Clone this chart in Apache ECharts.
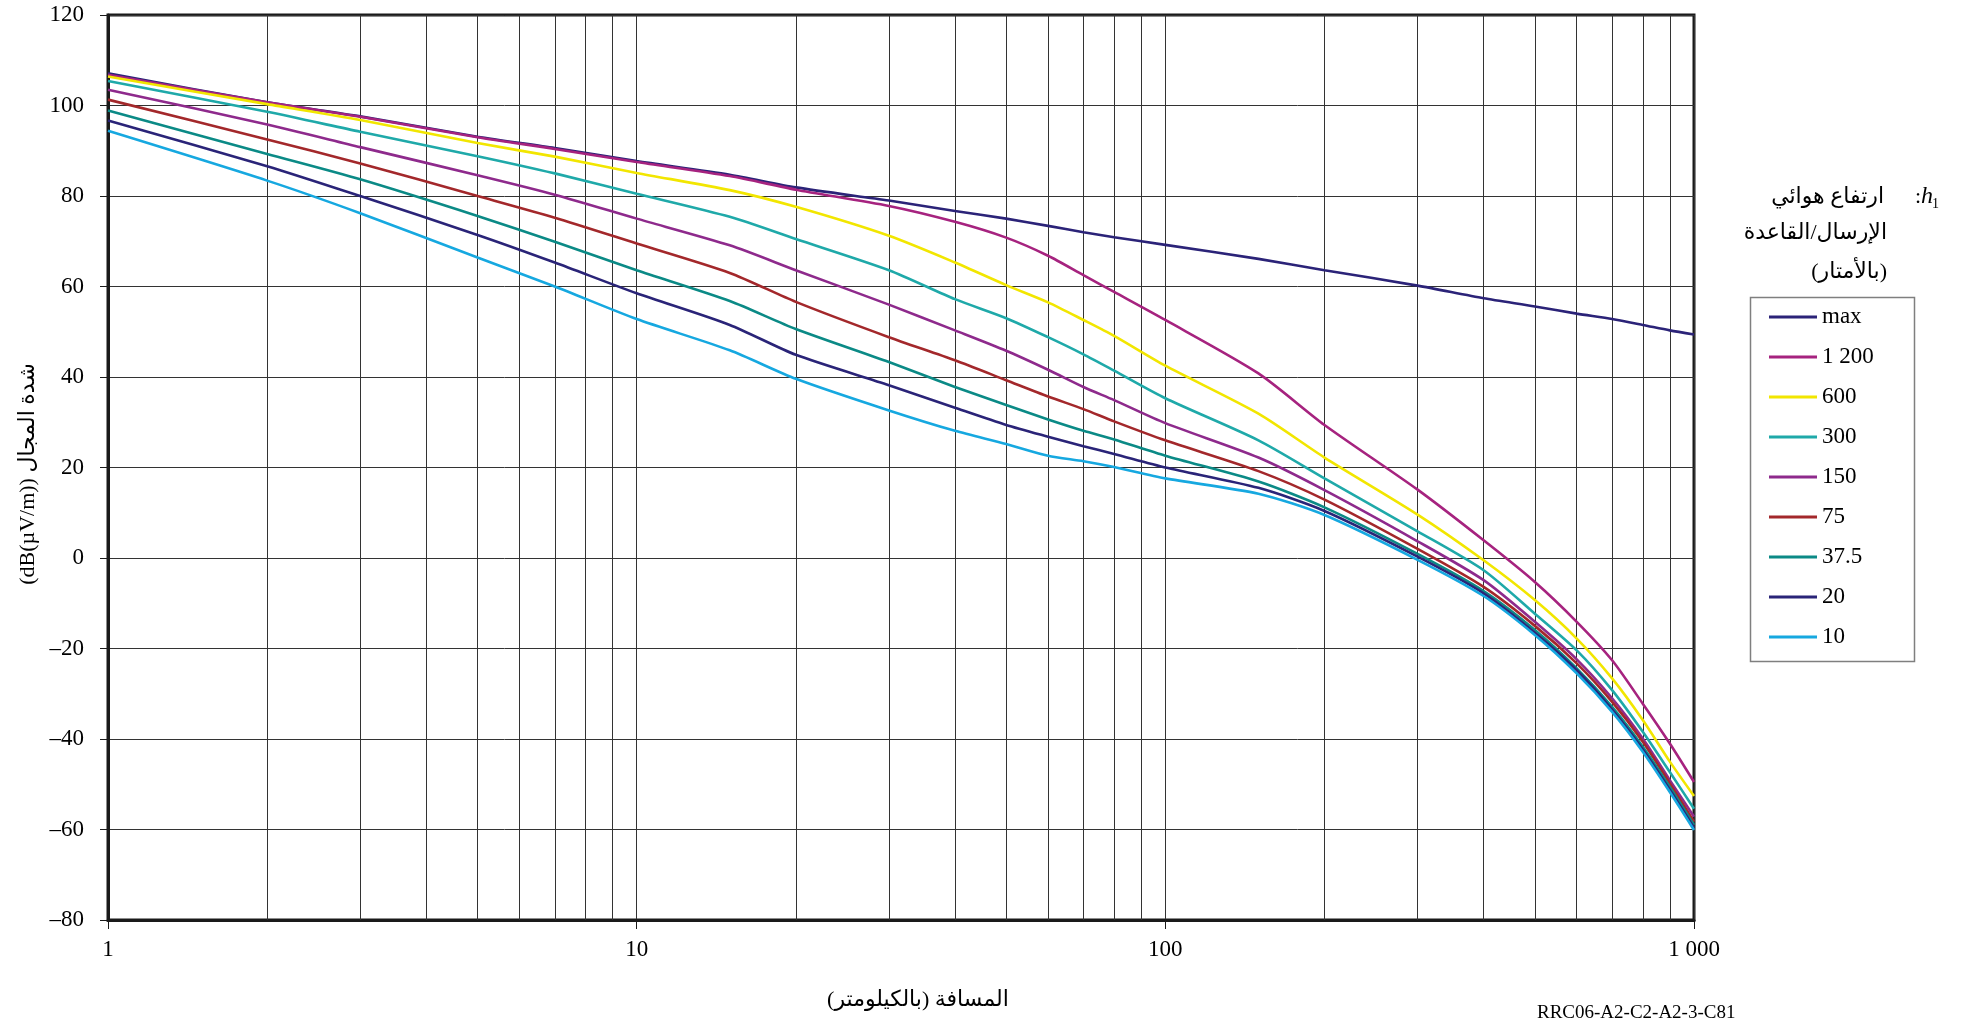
<!DOCTYPE html>
<html>
<head>
<meta charset="utf-8">
<script src="https://cdn.jsdelivr.net/npm/echarts@6/dist/echarts.min.js"></script>
<style>
html,body{margin:0;padding:0;background:#fff;}
#chart{width:1968px;height:1019px;}
</style>
</head>
<body>
<div id="chart"></div>
<script>
// Distances (km)
const distances = [1, 2, 3, 5, 7, 10, 15, 20, 30, 40, 50, 60, 70, 80, 100, 150, 200, 300, 400, 500, 600, 700, 800, 900, 1000];

// Field strength dB(µV/m) per transmitting/base antenna height h1
const hMax  = [107.1, 100.7, 97.6, 93.1, 90.6, 87.7, 84.7, 81.9, 79.0, 76.7, 75.0, 73.4, 72.0, 70.9, 69.2, 66.1, 63.6, 60.2, 57.4, 55.6, 54.0, 52.8, 51.5, 50.3, 49.4];
const h1200 = [106.8, 100.7, 97.5, 93.0, 90.4, 87.5, 84.4, 81.4, 77.8, 74.3, 70.8, 66.8, 62.5, 58.8, 52.6, 40.8, 29.4, 15.1, 3.9, -5.3, -14.1, -22.6, -32.2, -41.0, -49.5];
const h600  = [106.4, 100.3, 96.8, 91.7, 88.7, 85.1, 81.3, 77.6, 71.2, 65.3, 60.3, 56.5, 52.6, 49.1, 42.5, 31.9, 22.2, 9.6, -0.5, -9.3, -17.8, -26.6, -35.8, -45.0, -52.6];
const h300  = [105.4, 98.6, 94.2, 88.8, 85.0, 80.5, 75.4, 70.5, 63.6, 57.2, 53.0, 48.8, 45.0, 41.4, 35.3, 26.0, 17.6, 5.9, -2.7, -12.3, -20.4, -29.2, -38.4, -47.3, -55.4];
const h150  = [103.5, 95.8, 90.8, 84.6, 80.3, 75.0, 69.1, 63.6, 56.0, 50.3, 45.8, 41.6, 37.8, 34.9, 29.8, 22.2, 15.0, 3.7, -4.9, -14.1, -22.4, -31.0, -39.9, -49.1, -57.2];
const h75   = [101.3, 92.5, 87.2, 80.0, 75.2, 69.5, 63.0, 56.6, 48.8, 43.7, 39.3, 35.7, 32.9, 30.2, 26.0, 19.2, 12.9, 2.0, -6.4, -15.0, -23.3, -31.8, -40.6, -49.8, -58.3];
const h37_5 = [98.9, 89.3, 83.7, 75.6, 69.9, 63.6, 56.8, 50.6, 43.3, 37.8, 33.8, 30.6, 28.1, 26.2, 22.6, 16.9, 11.2, 0.9, -7.3, -15.9, -24.4, -32.9, -41.7, -50.6, -59.0];
const h20   = [96.7, 86.6, 80.0, 71.4, 65.3, 58.5, 51.5, 44.9, 38.2, 33.2, 29.4, 26.8, 24.7, 23.0, 20.0, 15.5, 10.4, 0.3, -7.8, -16.5, -24.8, -33.5, -42.3, -51.2, -59.6];
const h10   = [94.4, 83.4, 76.2, 66.4, 60.0, 52.8, 45.9, 39.6, 32.6, 28.1, 25.2, 22.6, 21.4, 20.1, 17.6, 14.2, 9.5, -0.4, -8.4, -17.0, -25.5, -34.0, -42.8, -51.7, -60.1];

const seriesNames = ['max', '1 200', '600', '300', '150', '75', '37.5', '20', '10'];
const seriesValues = [hMax, h1200, h600, h300, h150, h75, h37_5, h20, h10];
const seriesColors = ['#2b2378', '#a6237f', '#f2e600', '#1fa9a9', '#8e2a8c', '#a3282b', '#0b8a86', '#2a2478', '#16a8e0'];

// Axis ticks / grid
const xTickLabels = {1: '1', 10: '10', 100: '100', 1000: '1 000'};
const xMinorGrid = [2, 3, 4, 5, 6, 7, 8, 9, 20, 30, 40, 50, 60, 70, 80, 90, 200, 300, 400, 500, 600, 700, 800, 900];

const FONT = "'Liberation Serif', 'DejaVu Serif', serif";
const chart = echarts.init(document.getElementById('chart'), null, {renderer: 'canvas'});

const series = seriesNames.map((name, i) => ({
  name: name,
  type: 'line',
  data: distances.map((d, j) => [d, seriesValues[i][j]]),
  symbol: 'none',
  smooth: 0.25,
  lineStyle: {color: seriesColors[i], width: 2.6},
  itemStyle: {color: seriesColors[i]},
  z: 5
}));

series.push({
  name: 'grid',
  type: 'line',
  data: [],
  silent: true,
  z: 1,
  markLine: {
    silent: true,
    symbol: 'none',
    label: {show: false},
    lineStyle: {color: '#333', width: 1, type: 'solid'},
    data: xMinorGrid.map(v => ({xAxis: v}))
  }
});

const option = {
  animation: false,
  backgroundColor: '#fff',
  grid: {
    left: 108, right: 274, top: 15, bottom: 99,
    show: true, borderColor: '#1a1a1a', borderWidth: 3,
    outerBoundsMode: 'none'
  },
  xAxis: {
    type: 'log',
    logBase: 10,
    min: 1,
    max: 1000,
    axisLine: {show: true, onZero: false, lineStyle: {color: '#1a1a1a', width: 3}},
    axisTick: {show: true, length: 9, lineStyle: {color: '#1a1a1a', width: 1}},
    axisLabel: {
      margin: 18,
      color: '#000',
      fontFamily: FONT,
      fontSize: 23,
      formatter: v => xTickLabels[Math.round(v)] || ''
    },
    splitLine: {show: true, lineStyle: {color: '#333', width: 1}},
    minorTick: {show: false},
    minorSplitLine: {show: false}
  },
  yAxis: {
    type: 'value',
    min: -80,
    max: 120,
    interval: 20,
    axisLine: {show: true, onZero: false, lineStyle: {color: '#1a1a1a', width: 3}},
    axisTick: {show: true, length: 8, lineStyle: {color: '#1a1a1a', width: 1}},
    axisLabel: {
      margin: 24,
      color: '#000',
      fontFamily: FONT,
      fontSize: 23,
      formatter: v => String(v).replace('-', '\u2013')
    },
    splitLine: {show: true, lineStyle: {color: '#333', width: 1}}
  },
  legend: {
    data: seriesNames,
    orient: 'vertical',
    left: 1769,
    top: 295,
    padding: [10, 0, 10, 0],
    icon: 'rect',
    itemWidth: 48,
    itemHeight: 3,
    itemGap: 16,
    selectedMode: false,
    textStyle: {color: '#000', fontFamily: FONT, fontSize: 23, lineHeight: 24}
  },
  graphic: [
    {type: 'rect', left: 1748, top: 295, shape: {width: 164, height: 364}, style: {fill: 'none', stroke: '#7f7f7f', lineWidth: 1.5}, z: 10},
    {type: 'text', x: 1884, y: 197, style: {text: 'ارتفاع هوائي', font: "22px 'Liberation Serif', 'DejaVu Sans'", fill: '#000', align: 'right', verticalAlign: 'middle'}},
    {type: 'text', x: 1915, y: 197, style: {text: '{c|:}{h|h}', rich: {c: {fontSize: 22, fontFamily: FONT}, h: {fontSize: 24, fontFamily: FONT, fontStyle: 'italic'}}, fill: '#000', align: 'left', verticalAlign: 'middle'}},
    {type: 'text', x: 1932, y: 204, style: {text: '1', font: "14px 'Liberation Serif'", fill: '#000', align: 'left', verticalAlign: 'middle'}},
    {type: 'text', x: 1887, y: 233, style: {text: 'الإرسال/القاعدة', font: "22px 'Liberation Serif', 'DejaVu Sans'", fill: '#000', align: 'right', verticalAlign: 'middle'}},
    {type: 'text', x: 1887, y: 272, style: {text: '\u200F(بالأمتار)\u200F', font: "22px 'Liberation Serif', 'DejaVu Sans'", fill: '#000', align: 'right', verticalAlign: 'middle'}},
    {type: 'text', x: 28, y: 474, rotation: Math.PI / 2, style: {text: '(dB(µV/m)) شدة المجال', font: "22px 'Liberation Serif', 'DejaVu Sans'", fill: '#000', align: 'center', verticalAlign: 'middle'}},
    {type: 'text', x: 918, y: 1000, style: {text: 'المسافة (بالكيلومتر)\u200F', font: "22px 'Liberation Serif', 'DejaVu Sans'", fill: '#000', align: 'center', verticalAlign: 'middle'}},
    {type: 'text', x: 1537, y: 1004, style: {text: 'RRC06-A2-C2-A2-3-C81', font: "19px 'Liberation Serif'", fill: '#000', align: 'left', verticalAlign: 'top'}}
  ],
  series: series
};

chart.setOption(option);
</script>
</body>
</html>
